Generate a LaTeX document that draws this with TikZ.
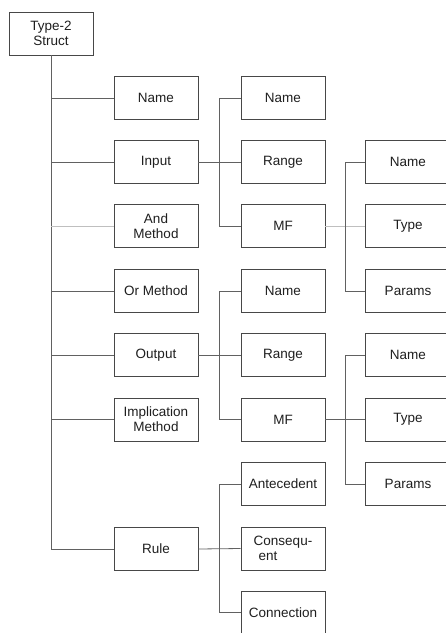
\documentclass[tikz,border=0pt]{standalone}
\usepackage{fontspec}
\setmainfont{Liberation Sans}
\begin{document}
\begin{tikzpicture}[x=1pt,y=-1pt,
  box/.style={draw=black!72,line width=0.8pt,fill=white,rectangle,minimum width=84pt,minimum height=43pt,inner sep=1pt,align=center,font=\fontsize{13.5}{15}\selectfont,text=black!88},
  wide/.style={box,minimum width=86pt},
  conn/.style={draw=black!62,line width=0.8pt},
  lite/.style={draw=black!25,line width=0.7pt}]
\useasboundingbox (0,0) rectangle (446,633);
% root
\node[box] (root) at (51,33.5) {Type-2\\Struct};
% column 1
\node[box] (c1name) at (156,98) {Name};
\node[box] (c1input) at (156,162) {Input};
\node[box] (c1and) at (156,226) {And\\Method};
\node[box] (c1or) at (156,291) {Or Method};
\node[box] (c1out) at (156,355) {Output};
\node[box] (c1imp) at (156,419.5) {Implication\\Method};
\node[box] (c1rule) at (156,549) {Rule};
% column 2
\node[box] (inname) at (283,98) {Name};
\node[box] (inrange) at (283,162) {Range};
\node[box] (inmf) at (283,226) {MF};
\node[box] (outname) at (283,291) {Name};
\node[box] (outrange) at (283,355) {Range};
\node[box] (outmf) at (283,419.5) {MF};
\node[box] (ant) at (283,484) {Antecedent};
\node[box,align=left] (cons) at (283,548.5) {Consequ-\\\hspace*{5pt}ent};
\node[box] (connx) at (283,612.5) {Connection};
% column 3
\node[wide] (imfname) at (408,162) {Name};
\node[wide] (imftype) at (408,226) {Type};
\node[wide] (imfparams) at (408,291) {Params};
\node[wide] (omfname) at (408,355) {Name};
\node[wide] (omftype) at (408,419.5) {Type};
\node[wide] (omfparams) at (408,484) {Params};
% bus coordinates
\coordinate (b1) at (219.5,0);
\coordinate (b2) at (345,0);
% trunk
\draw[conn] (root.south) |- (c1rule.west);
\draw[conn] (root.south |- c1name.west) -- (c1name.west);
\draw[conn] (root.south |- c1input.west) -- (c1input.west);
\draw[lite] (root.south |- c1and.west) -- (c1and.west);
\draw[conn] (root.south |- c1or.west) -- (c1or.west);
\draw[conn] (root.south |- c1out.west) -- (c1out.west);
\draw[conn] (root.south |- c1imp.west) -- (c1imp.west);
% input
\draw[conn] (c1input.east) -- (inrange.west);
\draw[conn] (inname.west) -| (b1 |- inname.west) |- (inmf.west);
% output
\draw[conn] (c1out.east) -- (outrange.west);
\draw[conn] (outname.west) -| (b1 |- outname.west) |- (outmf.west);
% rule
\draw[conn] (c1rule.east) -- (cons.west);
\draw[conn] (ant.west) -| (b1 |- ant.west) |- (connx.west);
% input mf
\draw[lite] (inmf.east) -- (imftype.west);
\draw[conn] (imfname.west) -| (b2 |- imfname.west) |- (imfparams.west);
% output mf
\draw[conn] (outmf.east) -- (omftype.west);
\draw[conn] (omfname.west) -| (b2 |- omfname.west) |- (omfparams.west);
\end{tikzpicture}
\end{document}
